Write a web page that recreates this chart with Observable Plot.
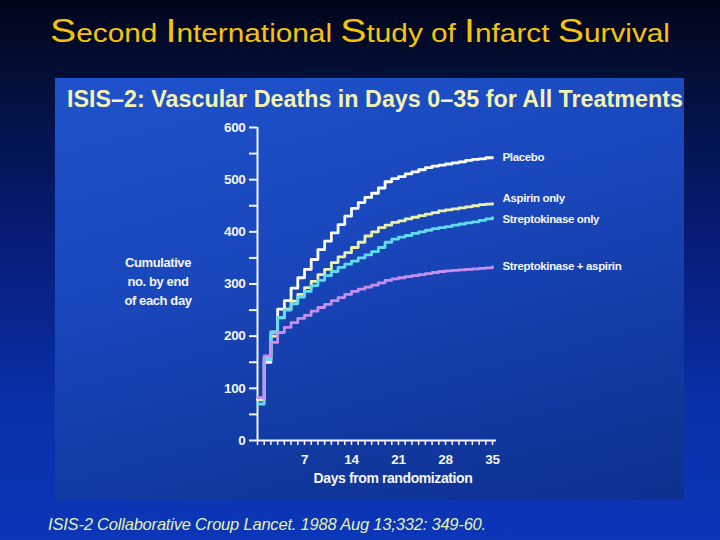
<!DOCTYPE html>
<html>
<head>
<meta charset="utf-8">
<script src="https://cdn.jsdelivr.net/npm/d3@7"></script>
<script src="https://cdn.jsdelivr.net/npm/@observablehq/plot@0.6"></script>
<style>
  html, body { margin: 0; padding: 0; }
  body {
    width: 720px; height: 540px; overflow: hidden; position: relative;
    background: linear-gradient(180deg, #01051a 0%, #030f36 14%, #061d7a 45%, #0a30a8 75%, #0b36b8 100%);
    font-family: "Liberation Sans", Arial, sans-serif;
  }
  #title { position: absolute; left: 0; top: 0; }
  #panel {
    position: absolute; left: 55px; top: 78px; width: 629px; height: 422px;
    background: linear-gradient(165deg, #1f52cc 0%, #1947bc 40%, #1239a0 75%, #0d3090 100%);
  }
  #panelTitle { position: absolute; left: 0; top: 0; }
  #chart { position: absolute; left: 0; top: 0; }
  #chart text { letter-spacing: -0.35px; }
  .lab {
    position: absolute; color: #f4f4f4; font-weight: bold; text-align: center; white-space: nowrap;
    font-family: "Liberation Sans", Arial, sans-serif; letter-spacing: -0.4px;
  }
  #ylab { left: 58px; width: 90px; top: 175px; font-size: 13px; line-height: 19px; }
  #xlab { left: 238px; width: 200px; top: 392px; font-size: 14px; }
  #foot {
    position: absolute; left: 48px; top: 515px; font-style: italic; font-size: 16.5px;
    color: #e4f0b0; font-family: "Liberation Sans", Arial, sans-serif; letter-spacing: -0.2px; white-space: nowrap;
  }
</style>
</head>
<body>
<svg id="title" width="720" height="70">
  <text x="50" y="42" textLength="620" lengthAdjust="spacingAndGlyphs" fill="#f5c40a" font-family="Liberation Sans, Arial, sans-serif" font-size="25"><tspan font-size="33">S</tspan>econd <tspan font-size="33">I</tspan>nternational <tspan font-size="33">S</tspan>tudy of <tspan font-size="33">I</tspan>nfarct <tspan font-size="33">S</tspan>urvival</text>
</svg>
<div id="panel">
  <svg id="panelTitle" width="629" height="40">
    <text x="12" y="29" textLength="616" lengthAdjust="spacingAndGlyphs" fill="#f3f3b4" font-weight="bold" font-family="Liberation Sans, Arial, sans-serif" font-size="23">ISIS–2:  Vascular Deaths in Days 0–35 for All Treatments</text>
  </svg>
  <div id="chart"></div>
  <div class="lab" id="ylab">Cumulative<br>no. by end<br>of each day</div>
  <div class="lab" id="xlab">Days from randomization</div>
</div>
<div id="foot">ISIS-2 Collaborative Croup Lancet. 1988 Aug 13;332: 349-60.</div>
<script>
const days = [0,1,2,3,4,5,6,7,8,9,10,11,12,13,14,15,16,17,18,19,20,21,22,23,24,25,26,27,28,29,30,31,32,33,34,35];
const seriesNames = ["Placebo", "Aspirin only", "Streptokinase only", "Streptokinase + aspirin"];
const placebo = [80,150,208,252,268,292,312,328,347,366,382,398,414,430,445,456,466,474,484,496,502,506,511,515,519,523,526,528,530,532,534,537,539,540,542,542];
const aspirin = [78,160,200,235,252,267,280,293,305,318,328,341,352,360,370,380,392,400,408,413,418,421,425,428,431,434,437,440,442,444,446,448,450,452,453,454];
const streptokinase = [70,155,207,236,250,262,275,286,297,307,316,324,332,338,344,350,356,362,370,380,386,390,393,397,400,403,406,408,410,413,415,417,419,422,425,427];
const both = [82,162,188,207,217,226,234,240,248,255,261,268,274,280,286,290,294,298,302,307,310,312,314,316,318,320,322,324,325,326,327,328,329,330,331,333];
const seriesColors = ["#ffffff", "#e9f2a6", "#5fdcf0", "#c68ef0"];
const yTicks = [0,50,100,150,200,250,300,350,400,450,500,550,600];
const yTickLabels = [0,100,200,300,400,500,600];
const xTickLabels = [7,14,21,28,35];

const allValues = [placebo, aspirin, streptokinase, both];
const data = [];
seriesNames.forEach((s, i) => days.forEach((d, j) => data.push({series: s, day: d, value: allValues[i][j]})));

const font = '"Liberation Sans", Arial, sans-serif';
const lastOf = name => data.filter(d => d.series === name && d.day === days[days.length - 1]);

const chart = Plot.plot({
  width: 629, height: 422,
  marginLeft: 202, marginRight: 192, marginTop: 49, marginBottom: 60,
  x: {domain: [0, 35], axis: null},
  y: {domain: [0, 600], axis: null},
  color: {domain: seriesNames, range: seriesColors},
  style: {background: "transparent", color: "#f4f4f4", fontFamily: font, fontSize: "13px", fontWeight: "bold", overflow: "visible"},
  marks: [
    Plot.axisY({ticks: yTicks, label: null, tickSize: 8, tickPadding: 4, stroke: "#f4f4f4", strokeWidth: 2, strokeOpacity: 1,
      tickFormat: d => yTickLabels.includes(d) ? String(d) : "", fontSize: 13.5, fontWeight: "bold"}),
    Plot.axisX({ticks: days, label: null, tickSize: 5, tickPadding: 9, stroke: "#f4f4f4", strokeWidth: 1.5, strokeOpacity: 1,
      tickFormat: d => xTickLabels.includes(d) ? String(d) : "", fontSize: 13.5, fontWeight: "bold"}),
    Plot.ruleX([0], {y1: 0, y2: 600, stroke: "#f4f4f4", strokeWidth: 2}),
    Plot.ruleY([0], {x1: 0, x2: 35.6, stroke: "#f4f4f4", strokeWidth: 2}),
    Plot.line(data, {x: "day", y: "value", z: "series", stroke: "series", curve: "step-after", strokeWidth: 2.8}),
    Plot.text(lastOf("Placebo"), {x: "day", y: "value", text: "series", dx: 10, textAnchor: "start", fill: "#f4f4f4", fontSize: 11.5}),
    Plot.text(lastOf("Aspirin only"), {x: "day", y: "value", text: "series", dx: 10, dy: -5, textAnchor: "start", fill: "#f4f4f4", fontSize: 11.5}),
    Plot.text(lastOf("Streptokinase only"), {x: "day", y: "value", text: "series", dx: 10, dy: 2, textAnchor: "start", fill: "#f4f4f4", fontSize: 11.5}),
    Plot.text(lastOf("Streptokinase + aspirin"), {x: "day", y: "value", text: "series", dx: 10, textAnchor: "start", fill: "#f4f4f4", fontSize: 11.5})
  ]
});
document.getElementById("chart").appendChild(chart);
</script>
</body>
</html>
